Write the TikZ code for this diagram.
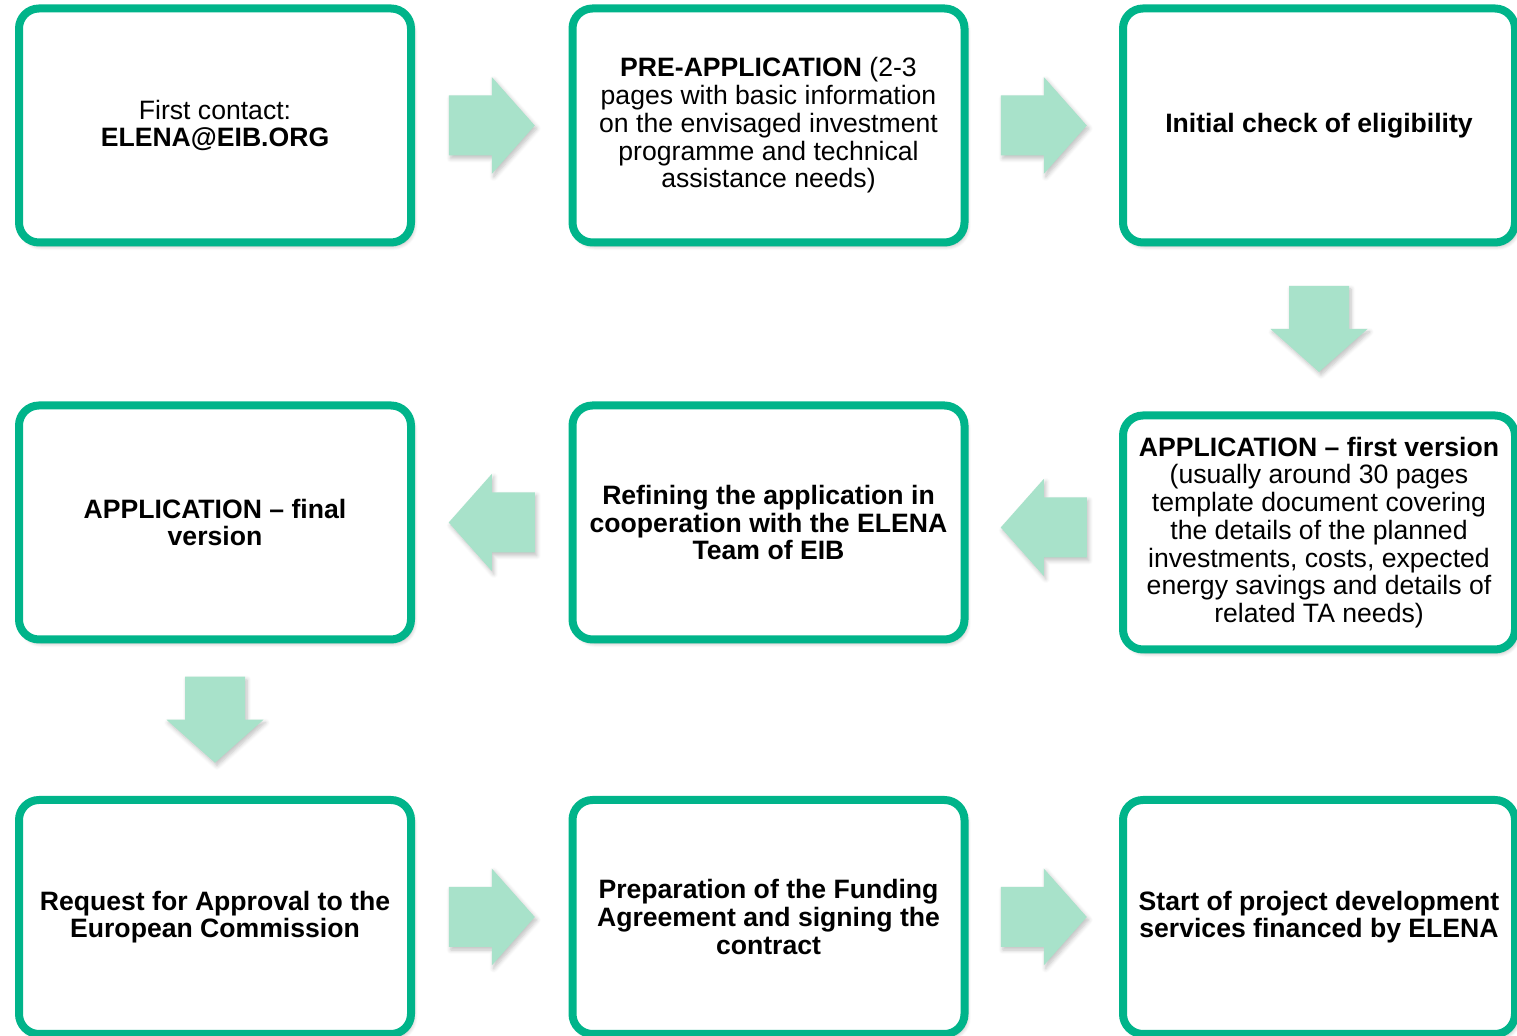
\documentclass[tikz,border=0pt]{standalone}
\usepackage{fontspec}
\setmainfont{Liberation Sans}
\usetikzlibrary{calc,shadows.blur}
\definecolor{elenagreen}{HTML}{00B48A}
\definecolor{elenamint}{HTML}{A8E2CA}

\begin{document}
\begin{tikzpicture}[
  x=0.5pt,
  y=-0.5pt,
  every node/.style={font=\fontsize{13.3}{13.85}\selectfont, black},
  stepcard/.style={draw=elenagreen, line width=4pt, fill=white,
                   rounded corners=10pt, align=center, inner sep=0pt,
                   minimum width=196pt, minimum height=117pt,
                   blur shadow={shadow xshift=1.2pt, shadow yshift=-1.8pt,
                                shadow opacity=30, shadow blur steps=6}},
  blockarrow/.style={fill=elenamint,
                     blur shadow={shadow xshift=1pt, shadow yshift=-1.5pt,
                                  shadow opacity=25, shadow blur steps=6}}
]
  \useasboundingbox (0,0) rectangle (1517,1036);

  %% ---- first row -----------------------------------------------------------
  \node[stepcard] (contact) at (215,125.5)
    {First contact:\\\textbf{ELENA@EIB.ORG}};
  \node[stepcard] (preapp) at (768.5,125.5)
    {\textbf{PRE-APPLICATION} (2-3\\pages with basic information\\on the envisaged investment\\programme and technical\\assistance needs)};
  \node[stepcard] (check) at (1319,125.5)
    {\textbf{Initial check of eligibility}};

  %% ---- second row (right to left) -----------------------------------------
  \node[stepcard] (appfirst) at (1319,532.5)
    {\textbf{APPLICATION -- first version}\\(usually around 30 pages\\template document covering\\the details of the planned\\investments, costs, expected\\energy savings and details of\\related TA needs)};
  \node[stepcard] (refine) at (768.5,522.5)
    {\textbf{Refining the application in}\\\textbf{cooperation with the ELENA}\\\textbf{Team of EIB}};
  \node[stepcard] (appfinal) at (215,522.5)
    {\textbf{APPLICATION -- final}\\\textbf{version}};

  %% ---- third row -----------------------------------------------------------
  \node[stepcard] (request) at (215,917)
    {\textbf{Request for Approval to the}\\\textbf{European Commission}};
  \node[stepcard] (funding) at (768.5,917)
    {\textbf{Preparation of the Funding}\\\textbf{Agreement and signing the}\\\textbf{contract}};
  \node[stepcard] (start) at (1319,917)
    {\textbf{Start of project development}\\\textbf{services financed by ELENA}};

  %% ---- block arrows, halfway between two cards ----------------------------
  %% 0 = right, -90 = down, 180 = left
  \foreach \a/\b/\r in {contact/preapp/0, preapp/check/0, check/appfirst/-90,
                        appfirst/refine/180, refine/appfinal/180,
                        appfinal/request/-90, request/funding/0,
                        funding/start/0}
    \fill[blockarrow, shift={($(\a)!0.5!(\b)$)}, rotate=\r]
      (-43,-30) -- (0,-30) -- (0,-48.5) -- (43,0) -- (0,48.5)
      -- (0,30) -- (-43,30) -- cycle;
\end{tikzpicture}
\end{document}
